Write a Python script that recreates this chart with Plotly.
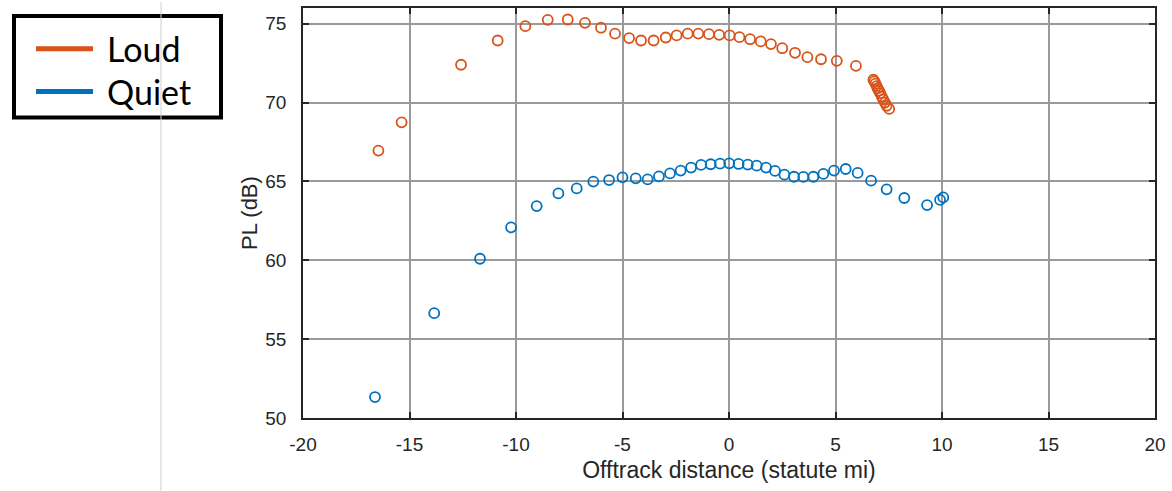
import plotly.graph_objects as go

# ---- data ----
loud_x = [-16.46, -15.37, -12.58, -10.86, -9.56, -8.51, -7.57, -6.76, -6.01, -5.35,
          -4.69, -4.13, -3.54, -2.97, -2.46, -1.94, -1.44, -0.94, -0.46, 0.03,
          0.49, 0.99, 1.49, 1.97, 2.50, 3.10, 3.68, 4.32, 5.06, 5.96,
          6.78, 6.83, 6.88, 6.93, 6.98, 7.04, 7.10, 7.17, 7.24, 7.32, 7.40, 7.52]
loud_y = [66.96, 68.75, 72.40, 73.94, 74.85, 75.25, 75.27, 75.06, 74.75, 74.37,
          74.09, 73.94, 73.94, 74.13, 74.26, 74.37, 74.38, 74.34, 74.30, 74.26,
          74.15, 74.02, 73.88, 73.71, 73.45, 73.16, 72.88, 72.75, 72.65, 72.33,
          71.45, 71.35, 71.20, 71.05, 70.90, 70.75, 70.60, 70.40, 70.20, 70.00, 69.80, 69.60]

quiet_x = [-16.62, -13.84, -11.69, -10.23, -9.03, -8.01, -7.15, -6.37, -5.63, -5.00,
           -4.38, -3.82, -3.29, -2.77, -2.27, -1.78, -1.31, -0.86, -0.42, 0.01,
           0.45, 0.88, 1.30, 1.74, 2.16, 2.60, 3.05, 3.49, 3.96, 4.43,
           4.93, 5.48, 6.04, 6.67, 7.40, 8.23, 9.30, 9.91, 10.06]
quiet_y = [51.33, 56.65, 60.10, 62.09, 63.44, 64.24, 64.56, 64.99, 65.09, 65.26,
           65.20, 65.13, 65.32, 65.51, 65.69, 65.88, 66.05, 66.09, 66.13, 66.15,
           66.11, 66.07, 66.00, 65.88, 65.67, 65.43, 65.30, 65.29, 65.30, 65.48,
           65.69, 65.79, 65.54, 65.05, 64.50, 63.95, 63.50, 63.83, 63.99]

series_names = ["Loud", "Quiet"]
series_colors = ["#D95319", "#0072BD"]

x_ticks = [-20, -15, -10, -5, 0, 5, 10, 15, 20]
y_ticks = [50, 55, 60, 65, 70, 75]

# ---- layout geometry ----
W, H = 1172, 491
L, R, T, B = 303, 17, 6, 73
PW, PH = W - L - R, H - T - B


def px(xp):
    return (xp - L) / PW


def py(yp):
    return 1 - (yp - T) / PH


FONT = "Liberation Sans, Arial, sans-serif"

fig = go.Figure()
for name, xs, ys, col in zip(series_names, [loud_x, quiet_x], [loud_y, quiet_y], series_colors):
    fig.add_trace(go.Scatter(
        x=xs, y=ys, mode="markers", name=name, showlegend=False,
        marker=dict(symbol="circle-open", size=10, color=col, line=dict(width=1.8, color=col)),
    ))

axis_common = dict(
    showgrid=True, gridcolor="#9a9a9a", gridwidth=1.6,
    showline=True, linecolor="#262626", linewidth=1.6, mirror="ticks",
    ticks="inside", ticklen=6, tickwidth=1.6, tickcolor="#262626",
    zeroline=False,
    tickfont=dict(family=FONT, size=19, color="#262626"),
)

fig.update_layout(
    width=W, height=H,
    margin=dict(l=L, r=R, t=T, b=B),
    paper_bgcolor="white", plot_bgcolor="white",
    xaxis=dict(range=[-20, 20], tickvals=x_ticks, ticktext=[str(v) for v in x_ticks],
               ticklabelstandoff=8,
               title=dict(text="Offtrack distance (statute mi)", standoff=8,
                          font=dict(family=FONT, size=23, color="#262626")),
               **axis_common),
    yaxis=dict(range=[50, 76], tickvals=y_ticks, ticktext=[str(v) for v in y_ticks],
               ticklabelstandoff=11,
               title=dict(text="PL (dB)", standoff=2,
                          font=dict(family=FONT, size=22, color="#262626")),
               **axis_common),
    showlegend=False,
)

shapes = []
annotations = []
# legend box
shapes.append(dict(type="rect", xref="paper", yref="paper",
                   x0=px(14), x1=px(221), y0=py(116), y1=py(14),
                   line=dict(color="black", width=4), fillcolor="white", layer="above"))
key_y = [47, 90]
for name, col, ky in zip(series_names, series_colors, key_y):
    shapes.append(dict(type="line", xref="paper", yref="paper",
                       x0=px(36), x1=px(93), y0=py(ky), y1=py(ky),
                       line=dict(color=col, width=5), layer="above"))
    annotations.append(dict(xref="paper", yref="paper", x=px(105), y=py(ky), text=name,
                            showarrow=False, xanchor="left", yanchor="middle",
                            font=dict(family="Lato, Carlito, sans-serif", size=34, color="black")))
# thin slide guide line
shapes.append(dict(type="line", xref="paper", yref="paper",
                   x0=px(161), x1=px(161), y0=py(0), y1=py(H),
                   line=dict(color="#cfcfcf", width=1), layer="above"))

fig.update_layout(shapes=shapes, annotations=annotations)
fig.write_html("out.html")
